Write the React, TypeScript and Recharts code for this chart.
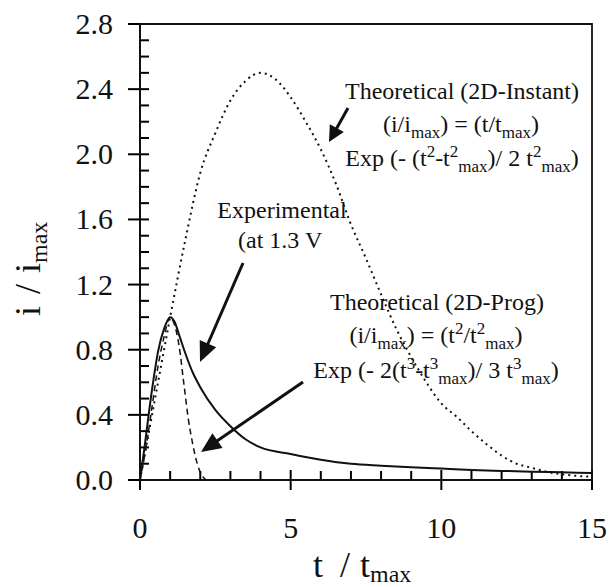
import React from "react";
import { LineChart, Line, XAxis, YAxis, ReferenceArea } from "recharts";

// Theoretical (2D-Instant) — dotted
const instantT = [0, 0.5, 1, 1.5, 2, 2.5, 3, 3.5, 4, 4.5, 5, 5.5, 6, 6.5, 7, 7.5, 8, 8.5, 9, 9.5, 10, 10.5, 11, 11.5, 12, 12.5, 13, 13.5, 14, 14.5, 15];
const instantI = [0, 0.5, 1.0, 1.47, 1.885, 2.13, 2.33, 2.45, 2.5, 2.46, 2.35, 2.2, 2.03, 1.82, 1.57, 1.36, 1.14, 0.93, 0.755, 0.6, 0.47, 0.39, 0.3, 0.22, 0.15, 0.1, 0.075, 0.05, 0.035, 0.025, 0.02];

// Experimental (at 1.3 V) — solid
const expT = [0, 0.15, 0.3, 0.45, 0.6, 0.8, 1, 1.15, 1.3, 1.5, 1.75, 2, 2.5, 3, 3.5, 4, 5, 6, 7, 8, 9, 10, 11, 12, 13, 14, 15];
const expI = [0, 0.2, 0.42, 0.62, 0.79, 0.93, 1.0, 0.97, 0.89, 0.78, 0.66, 0.57, 0.43, 0.33, 0.25, 0.2, 0.16, 0.125, 0.1, 0.088, 0.078, 0.07, 0.062, 0.056, 0.051, 0.047, 0.043];

// Theoretical (2D-Prog) — dashed
const progT = [0, 0.2, 0.4, 0.6, 0.8, 1, 1.15, 1.3, 1.45, 1.6, 1.75, 1.9, 2.05, 2.2];
const progI = [0, 0.2, 0.45, 0.7, 0.88, 1.0, 0.95, 0.82, 0.6, 0.38, 0.22, 0.1, 0.03, 0.0];

const xTicks = [0, 1, 2, 3, 4, 5, 6, 7, 8, 9, 10, 11, 12, 13, 14, 15];
const xMajor = [0, 5, 10, 15];
const yTicks = [0, 0.1, 0.2, 0.3, 0.4, 0.5, 0.6, 0.7, 0.8, 0.9, 1.0, 1.1, 1.2, 1.3, 1.4, 1.5, 1.6, 1.7, 1.8, 1.9, 2.0, 2.1, 2.2, 2.3, 2.4, 2.5, 2.6, 2.7, 2.8];
const yMajor = ["0.0", "0.4", "0.8", "1.2", "1.6", "2.0", "2.4", "2.8"];

const instantData = instantT.map((t, i) => ({ t, v: instantI[i] }));
const expData = expT.map((t, i) => ({ t, v: expI[i] }));
const progData = progT.map((t, i) => ({ t, v: progI[i] }));

const FONT = "'Liberation Serif', 'Times New Roman', serif";
const INK = "#111";

// layout of the plotting area (follows from the chart margins / axis sizes below)
const W = 610;
const H = 587;
const M = { top: 24, right: 18, left: 0, bottom: 0 };
const Y_AXIS_W = 140;
const X_AXIS_H = 107;
const PL = M.left + Y_AXIS_W;
const PR = W - M.right;
const PT = M.top;
const PB = H - M.bottom - X_AXIS_H;
const X_MAX = 15;
const Y_MAX = 2.8;
const sx = (t: number) => PL + (t / X_MAX) * (PR - PL);
const sy = (v: number) => PB - (v / Y_MAX) * (PB - PT);

const XTick = (props: any) => {
  const { x, y, payload } = props;
  const major = xMajor.includes(payload.value);
  if (!major) return <g />;
  return (
    <text x={x} y={y + 58} textAnchor="middle" fontSize={30} fontFamily={FONT} fill={INK}>
      {payload.value}
    </text>
  );
};

const YTick = (props: any) => {
  const { x, y, payload } = props;
  const label = Number(payload.value).toFixed(1);
  if (!yMajor.includes(label)) return <g />;
  return (
    <text x={x - 27} y={y + 10} textAnchor="end" fontSize={30} fontFamily={FONT} fill={INK}>
      {label}
    </text>
  );
};

const Arrow = ({ x1, y1, x2, y2, head = 18, half = 8 }: any) => {
  const dx = x2 - x1;
  const dy = y2 - y1;
  const len = Math.sqrt(dx * dx + dy * dy);
  const ux = dx / len;
  const uy = dy / len;
  const bx = x2 - ux * head;
  const by = y2 - uy * head;
  const px = -uy * half;
  const py = ux * half;
  return (
    <g>
      <line x1={x1} y1={y1} x2={bx + ux * 2} y2={by + uy * 2} stroke={INK} strokeWidth={3} />
      <polygon points={`${x2},${y2} ${bx + px},${by + py} ${bx - px},${by - py}`} fill={INK} />
    </g>
  );
};

const Overlay = () => (
  <g>
    <g>
      {xTicks.map((t) => {
        const major = xMajor.includes(t);
        const x = sx(t);
        return (
          <line key={`xt${t}`} x1={x} x2={x} y1={major ? PB + 10 : PB} y2={PB - (major ? 10 : 9)} stroke="#000" strokeWidth={2} />
        );
      })}
      {yTicks.map((v) => {
        const major = yMajor.includes(v.toFixed(1));
        const y = sy(v);
        return <line key={`yt${v}`} x1={major ? PL - 12 : PL} x2={PL + 9} y1={y} y2={y} stroke="#000" strokeWidth={2} />;
      })}
    </g>
    <g fontFamily={FONT} fill={INK}>
      <text x={462} y={99} textAnchor="middle" fontSize={24}>Theoretical (2D-Instant)</text>
      <text x={461} y={132} textAnchor="middle" fontSize={24}>
        (i/i<tspan fontSize={17} dy={6}>max</tspan><tspan dy={-6}>) = (t/t</tspan><tspan fontSize={17} dy={6}>max</tspan><tspan dy={-6}>)</tspan>
      </text>
      <text x={462} y={166} textAnchor="middle" fontSize={24}>
        Exp (- (t<tspan fontSize={17} dy={-9}>2</tspan><tspan dy={9}>-t</tspan><tspan fontSize={17} dy={-9}>2</tspan><tspan fontSize={17} dy={15}>max</tspan><tspan dy={-6}>)/ 2 t</tspan><tspan fontSize={17} dy={-9}>2</tspan><tspan fontSize={17} dy={15}>max</tspan><tspan dy={-6}>)</tspan>
      </text>

      <text x={282} y={218} textAnchor="middle" fontSize={24}>Experimental</text>
      <text x={238} y={248} textAnchor="start" fontSize={24}>(at 1.3 V</text>

      <text x={437} y={310} textAnchor="middle" fontSize={24}>Theoretical (2D-Prog)</text>
      <text x={436} y={343} textAnchor="middle" fontSize={24}>
        (i/i<tspan fontSize={17} dy={6}>max</tspan><tspan dy={-6}>) = (t</tspan><tspan fontSize={17} dy={-9}>2</tspan><tspan dy={9}>/t</tspan><tspan fontSize={17} dy={-9}>2</tspan><tspan fontSize={17} dy={15}>max</tspan><tspan dy={-6}>)</tspan>
      </text>
      <text x={436} y={378} textAnchor="middle" fontSize={24}>
        Exp (- 2(t<tspan fontSize={17} dy={-9}>3</tspan><tspan dy={9}>-t</tspan><tspan fontSize={17} dy={-9}>3</tspan><tspan fontSize={17} dy={15}>max</tspan><tspan dy={-6}>)/ 3 t</tspan><tspan fontSize={17} dy={-9}>3</tspan><tspan fontSize={17} dy={15}>max</tspan><tspan dy={-6}>)</tspan>
      </text>

      <Arrow x1={348} y1={108} x2={329} y2={142} head={16} half={8} />
      <Arrow x1={243} y1={263} x2={200} y2={362} head={20} half={9} />
      <Arrow x1={303} y1={382} x2={201} y2={452} head={20} half={9} />

      <text x={313} y={577} fontSize={36}>
        <tspan x={313}>t</tspan>
        <tspan x={340}>/</tspan>
        <tspan x={360}>t</tspan>
        <tspan fontSize={24} dy={5}>max</tspan>
      </text>
      <text transform="translate(40, 316) rotate(-90)" fontSize={36}>
        <tspan x={0}>i</tspan>
        <tspan x={22}>/</tspan>
        <tspan x={43}>i</tspan>
        <tspan fontSize={24} dy={7}>max</tspan>
      </text>
    </g>
  </g>
);

export default function App() {
  return (
    <div style={{ position: "absolute", left: 0, top: 0, width: W, height: H, background: "#fff" }}>
      <LineChart width={W} height={H} margin={M}>
        <XAxis
          type="number"
          dataKey="t"
          domain={[0, X_MAX]}
          ticks={xTicks}
          interval={0}
          tickSize={0}
          tickMargin={0}
          tickLine={false}
          tick={<XTick />}
          height={X_AXIS_H}
          axisLine={{ stroke: "#111", strokeWidth: 2 }}
          allowDataOverflow
        />
        <YAxis
          type="number"
          dataKey="v"
          domain={[0, Y_MAX]}
          ticks={yTicks}
          interval={0}
          tickSize={0}
          tickMargin={0}
          tickLine={false}
          tick={<YTick />}
          width={Y_AXIS_W}
          axisLine={{ stroke: "#111", strokeWidth: 2 }}
          allowDataOverflow
        />
        <ReferenceArea x1={0} x2={X_MAX} y1={0} y2={Y_MAX} fill="none" fillOpacity={0} stroke="#111" strokeWidth={1.8} ifOverflow="visible" />
        <Line data={instantData} dataKey="v" type="monotone" stroke={INK} strokeWidth={2} strokeDasharray="2 4" dot={false} isAnimationActive={false} />
        <Line data={expData} dataKey="v" type="monotone" stroke={INK} strokeWidth={2} dot={false} isAnimationActive={false} />
        <Line data={progData} dataKey="v" type="monotone" stroke={INK} strokeWidth={1.5} strokeDasharray="6 4" dot={false} isAnimationActive={false} />
        <Overlay />
      </LineChart>
    </div>
  );
}
